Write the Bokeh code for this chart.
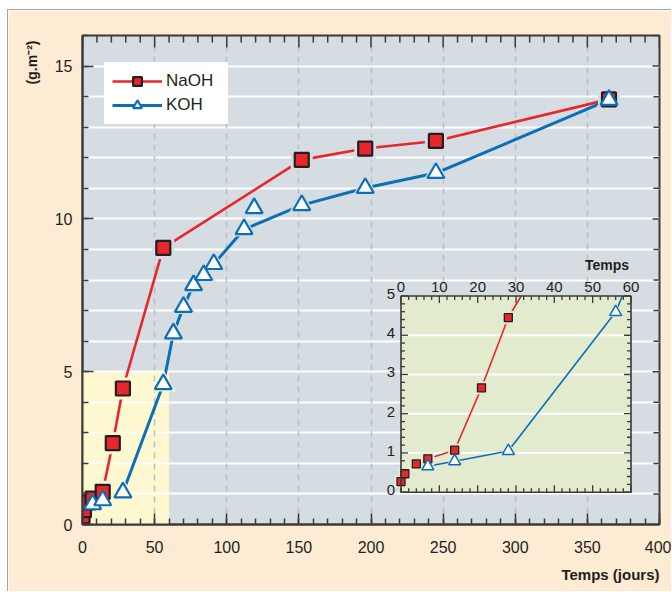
import numpy as np
from bokeh.plotting import figure
from bokeh.models import (Range1d, SingleIntervalTicker, Legend, LegendItem, Title)
from bokeh.core.properties import value
from bokeh.embed import file_html
from bokeh.resources import INLINE

# ---------------- data ----------------
naoh_days = [0, 1, 4, 7, 14, 21, 28, 56, 152, 196, 245, 365]
naoh_vals = [0.27, 0.47, 0.72, 0.85, 1.07, 2.66, 4.45, 9.05, 11.93, 12.30, 12.55, 13.91]

koh_days = [7, 14, 28, 56, 63, 70, 77, 84, 91, 112, 119, 152, 196, 245, 365]
koh_vals = [0.66, 0.79, 1.05, 4.59, 6.25, 7.12, 7.83, 8.16, 8.52, 9.66, 10.35, 10.45, 11.01, 11.50, 13.89]
koh_on_curve = [True, True, True, True, True, True, True, True, True, True, False, True, True, True, True]

x_range_main = (0, 400)
y_range_main = (0, 16)
zoom_box = (0, 60, 0, 5)          # detail window: x0, x1, y0, y1
inset_xticks = [0, 10, 20, 30, 40, 50, 60]
inset_yticks = [0, 1, 2, 3, 4, 5]

# ---------------- style ----------------
FONT = "Liberation Sans"
TXT = "#231f20"
RED = "#e8262d"
BLUE = "#0b6fb8"
DARK = "#231f20"
AXC = "#3a3a3a"
PLOT_BG = "#d5dce2"
PAGE_BG = "#fdebd3"
YELLOW = "#fdf8cf"
INSET_BG = "#e3ebcf"

W, H = 664, 582
MB_L, MB_R, MB_T, MB_B = 74, 13, 25, 68
FRAME_L, FRAME_R, FRAME_T, FRAME_B = 82, 659, 35, 524
INSET_L, INSET_R, INSET_T, INSET_B = 400.5, 630.5, 295.5, 491.7

X0, X1, Y0, Y1 = zoom_box
ppx = (INSET_R - INSET_L) / (X1 - X0)
ppy = (INSET_B - INSET_T) / (Y1 - Y0)
ix_start = X0 + (FRAME_L - INSET_L) / ppx
ix_end = X0 + (FRAME_R - INSET_L) / ppx
iy_start = Y0 - (FRAME_B - INSET_B) / ppy
iy_end = Y0 + (INSET_B - FRAME_T) / ppy
mppx = (FRAME_R - FRAME_L) / (x_range_main[1] - x_range_main[0])
mppy = (FRAME_B - FRAME_T) / (y_range_main[1] - y_range_main[0])

p = figure(width=W, height=H, x_range=x_range_main, y_range=y_range_main,
           output_backend="svg", toolbar_location=None,
           min_border_left=MB_L, min_border_right=MB_R,
           min_border_top=MB_T, min_border_bottom=MB_B,
           background_fill_color=PLOT_BG, border_fill_color=PAGE_BG,
           outline_line_color=AXC, outline_line_width=2,
           styles={"margin-left": "7px", "margin-top": "9px",
                   "border-left": "1px solid #a3a3a3", "border-top": "1px solid #a3a3a3"})
p.extra_x_ranges = {"ix": Range1d(ix_start, ix_end)}
p.extra_y_ranges = {"iy": Range1d(iy_start, iy_end)}

def style_axis(ax):
    ax.axis_line_color = AXC
    ax.axis_line_width = 2
    ax.major_tick_line_color = AXC
    ax.minor_tick_line_color = AXC
    ax.major_tick_line_width = 1.5
    ax.minor_tick_line_width = 1.5
    ax.major_tick_in = 11
    ax.major_tick_out = 0
    ax.minor_tick_in = 6
    ax.minor_tick_out = 0
    ax.major_label_text_font = FONT
    ax.major_label_text_color = TXT
    ax.major_label_text_font_size = "16px"

p.xaxis.ticker = SingleIntervalTicker(interval=50, num_minor_ticks=5)
p.yaxis.ticker = SingleIntervalTicker(interval=5, num_minor_ticks=5)
style_axis(p.xaxis[0])
style_axis(p.yaxis[0])
p.xaxis.major_label_standoff = 16
p.yaxis.major_label_standoff = 10

top_t = np.arange(x_range_main[0], x_range_main[1] + 1e-9, 10.0)
top_len = [(12 if abs(v % 50) < 1e-9 else 7) / mppy for v in top_t]
ytop = y_range_main[1]
p.segment(x0=list(top_t), x1=list(top_t), y0=[ytop] * len(top_t),
          y1=[ytop - l for l in top_len], line_color=AXC, line_width=1.5)
right_t = np.arange(y_range_main[0], y_range_main[1] + 1e-9, 1.0)
right_len = [(7 if abs(v % 5) < 1e-9 else 6) / mppx for v in right_t]
xr = x_range_main[1]
p.segment(x0=[xr] * len(right_t), x1=[xr - l for l in right_len], y0=list(right_t),
          y1=list(right_t), line_color=AXC, line_width=1.5)

p.xgrid.ticker = SingleIntervalTicker(interval=50)
p.xgrid.grid_line_color = "#b9bfc5"
p.xgrid.grid_line_dash = "6 5"
p.xgrid.grid_line_width = 1.5
p.ygrid.ticker = SingleIntervalTicker(interval=1)
p.ygrid.grid_line_color = "white"
p.ygrid.grid_line_width = 2
p.ygrid.level = "image"

p.add_layout(Title(text="(g.m⁻²)", align="right", text_font=FONT, text_font_size="14px",
                   text_font_style="bold", text_color=TXT, standoff=24, offset=5), "left")
p.add_layout(Title(text="Temps (jours)", align="right", text_font=FONT, text_font_size="15px",
                   text_font_style="bold", text_color=TXT, standoff=16), "below")

p.quad(left=[X0], right=[X1], bottom=[Y0], top=[Y1], fill_color=YELLOW, line_color=None,
       level="image")

koh_line_x = [d for d, k in zip(koh_days, koh_on_curve) if k]
koh_line_y = [v for v, k in zip(koh_vals, koh_on_curve) if k]

r_line_n = p.line(naoh_days, naoh_vals, line_color=RED, line_width=2.6)
r_line_k = p.line(koh_line_x, koh_line_y, line_color=BLUE, line_width=3)

def halo_colors(xs, ys):
    return [YELLOW if (X0 <= x <= X1 and Y0 <= y <= Y1) else PLOT_BG for x, y in zip(xs, ys)]

p.scatter(naoh_days, naoh_vals, marker="square", size=22, fill_color=halo_colors(naoh_days, naoh_vals),
          line_color=None)
p.scatter(koh_days, koh_vals, marker="triangle", size=25, fill_color=halo_colors(koh_days, koh_vals),
          line_color=None)
r_mk_n = p.scatter(naoh_days, naoh_vals, marker="square", size=14, fill_color=RED,
                   line_color=DARK, line_width=2.2)
r_mk_k = p.scatter(koh_days, koh_vals, marker="triangle", size=17, fill_color="white",
                   line_color=BLUE, line_width=2.2)

legend = Legend(items=[LegendItem(label="NaOH", renderers=[r_line_n, r_mk_n]),
                       LegendItem(label="KOH", renderers=[r_line_k, r_mk_k])],
                location=(22, 400), glyph_width=50, glyph_height=22, spacing=2,
                padding=2, margin=0, label_standoff=4, label_width=54,
                border_line_color="white", border_line_width=6,
                background_fill_color="white", background_fill_alpha=1,
                label_text_font=FONT, label_text_font_size="17px", label_text_color=TXT)
p.add_layout(legend)

# ---------- inset ----------
def clip_segment(xa, ya, xb, yb, xmin, xmax, ymin, ymax):
    dx, dy = xb - xa, yb - ya
    t0, t1 = 0.0, 1.0
    for pp, q in ((-dx, xa - xmin), (dx, xmax - xa), (-dy, ya - ymin), (dy, ymax - ya)):
        if pp == 0:
            if q < 0:
                return None
        else:
            t = q / pp
            if pp < 0:
                t0 = max(t0, t)
            else:
                t1 = min(t1, t)
    if t0 > t1:
        return None
    return xa + t0 * dx, ya + t0 * dy, xa + t1 * dx, ya + t1 * dy

def clip_polyline(xs, ys):
    out_x, out_y = [], []
    cx, cy = [], []
    for i in range(len(xs) - 1):
        s = clip_segment(xs[i], ys[i], xs[i + 1], ys[i + 1], X0, X1, Y0, Y1)
        if s is None:
            if cx:
                out_x.append(cx); out_y.append(cy); cx, cy = [], []
            continue
        ax_, ay_, bx_, by_ = s
        if cx and abs(cx[-1] - ax_) < 1e-9 and abs(cy[-1] - ay_) < 1e-9:
            cx.append(bx_); cy.append(by_)
        else:
            if cx:
                out_x.append(cx); out_y.append(cy)
            cx, cy = [ax_, bx_], [ay_, by_]
    if cx:
        out_x.append(cx); out_y.append(cy)
    return out_x, out_y

IR = dict(x_range_name="ix", y_range_name="iy")

p.quad(left=[X0], right=[X1], bottom=[Y0], top=[Y1], fill_color=INSET_BG, line_color=None, **IR)
gy = [v for v in inset_yticks if Y0 < v < Y1]
p.segment(x0=[X0] * len(gy), x1=[X1] * len(gy), y0=gy, y1=gy, line_color="white", line_width=2, **IR)

xt_minor = np.arange(X0, X1 + 1e-9, 2.0)
xt_len = [(7 if abs(v % 10) < 1e-9 else 4) / ppy for v in xt_minor]
yt_minor = np.arange(Y0, Y1 + 1e-9, 0.2)
yt_len = [(7 if abs(v - round(v)) < 1e-9 else 4) / ppx for v in yt_minor]
for ybase, sign in ((Y1, -1), (Y0, 1)):
    p.segment(x0=list(xt_minor), x1=list(xt_minor), y0=[ybase] * len(xt_minor),
              y1=[ybase + sign * l for l in xt_len], line_color=AXC, line_width=1.3, **IR)
for xbase, sign in ((X0, 1), (X1, -1)):
    p.segment(x0=[xbase] * len(yt_minor), x1=[xbase + sign * l for l in yt_len],
              y0=list(yt_minor), y1=list(yt_minor), line_color=AXC, line_width=1.3, **IR)

nx, ny = clip_polyline(naoh_days, naoh_vals)
kx, ky = clip_polyline(koh_line_x, koh_line_y)
p.multi_line(nx, ny, line_color=RED, line_width=1.6, **IR)
p.multi_line(kx, ky, line_color=BLUE, line_width=1.6, **IR)

def inside(xs, ys):
    sel = [(x, y) for x, y in zip(xs, ys) if X0 <= x <= X1 and Y0 <= y <= Y1]
    return [s[0] for s in sel], [s[1] for s in sel]

inx, iny = inside(naoh_days, naoh_vals)
ikx, iky = inside(koh_days, koh_vals)
p.scatter(inx, iny, marker="square", size=13, fill_color=INSET_BG, line_color=None, **IR)
p.scatter(ikx, iky, marker="triangle", size=17, fill_color=INSET_BG, line_color=None, **IR)
p.scatter(inx, iny, marker="square", size=8, fill_color=RED, line_color=DARK, line_width=1.3, **IR)
p.scatter(ikx, iky, marker="triangle", size=12, fill_color="white", line_color=BLUE,
          line_width=1.5, **IR)

p.quad(left=[X0], right=[X1], bottom=[Y0], top=[Y1], fill_color=None, line_color=AXC,
       line_width=1.6, **IR)

p.text(x=inset_xticks, y=[Y1] * len(inset_xticks), text=[str(v) for v in inset_xticks],
       text_align="center", text_baseline="bottom", y_offset=-4,
       text_font=value(FONT), text_font_size="15px", text_color=TXT, **IR)
p.text(x=[X0] * len(inset_yticks), y=inset_yticks, text=[str(v) for v in inset_yticks],
       text_align="right", text_baseline="middle", x_offset=-6, y_offset=-2,
       text_font=value(FONT), text_font_size="15px", text_color=TXT, **IR)
p.text(x=[X1], y=[Y1], text=["Temps"], text_align="right", text_baseline="middle",
       x_offset=-2, y_offset=-31, text_font=value(FONT), text_font_size="14px",
       text_font_style="bold", text_color=TXT, **IR)

open("out.html", "w").write(file_html(p, INLINE))
